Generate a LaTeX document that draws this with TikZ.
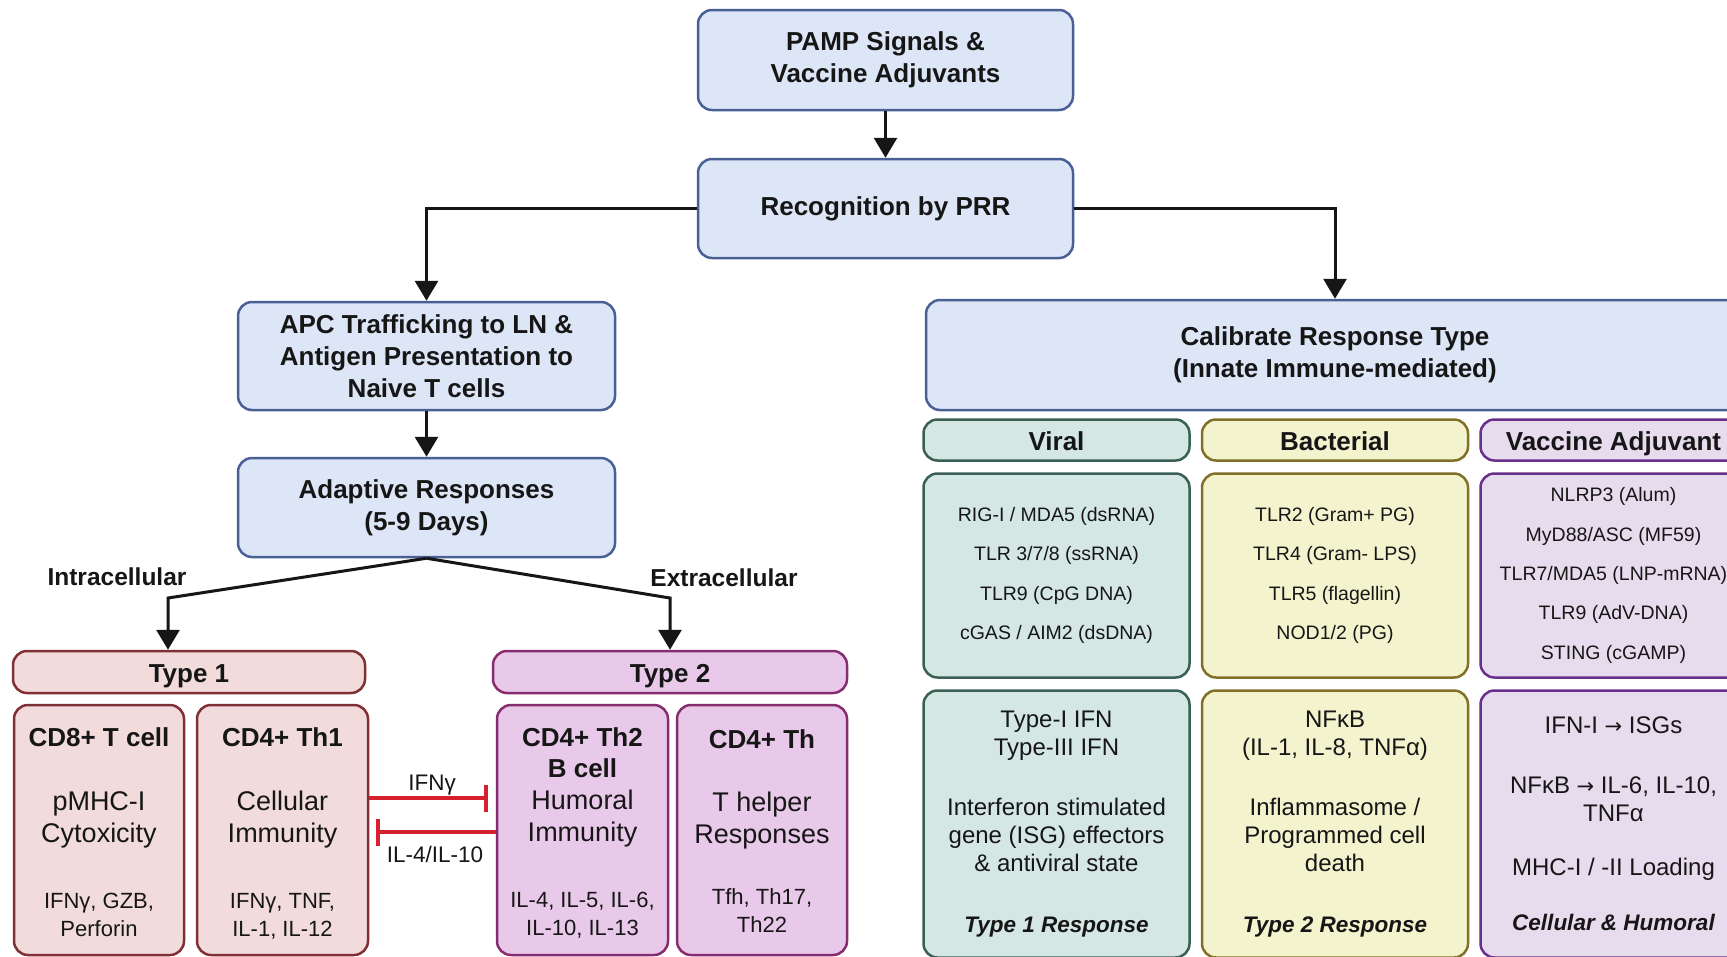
\documentclass[tikz,border=0pt]{standalone}
\usepackage{fontspec}
\setmainfont{Liberation Sans}
\newfontfamily\arrowfont{DejaVu Sans}
\usetikzlibrary{matrix,arrows.meta,positioning}

\definecolor{bluefill}{RGB}{221,230,246}
\definecolor{bluedraw}{RGB}{72,96,148}
\definecolor{onefill}{RGB}{241,219,219}
\definecolor{onedraw}{RGB}{128,48,52}
\definecolor{twofill}{RGB}{233,201,233}
\definecolor{twodraw}{RGB}{133,45,110}
\definecolor{viralfill}{RGB}{212,231,228}
\definecolor{viraldraw}{RGB}{58,96,84}
\definecolor{bactfill}{RGB}{243,243,206}
\definecolor{bactdraw}{RGB}{128,112,40}
\definecolor{vaccfill}{RGB}{231,219,238}
\definecolor{vaccdraw}{RGB}{104,48,138}
\definecolor{inhibred}{RGB}{214,32,48}
\definecolor{ink}{RGB}{22,22,22}

\tikzset{
  box/.style={draw=bluedraw, fill=bluefill, rounded corners=14pt, line width=2.5pt,
    align=center, inner sep=0pt, font=\bfseries\fontsize{26pt}{32pt}\selectfont},
  tone/.style={draw=onedraw, fill=onefill, rounded corners=14pt, line width=2.5pt, inner sep=0pt},
  ttwo/.style={draw=twodraw, fill=twofill, rounded corners=14pt, line width=2.5pt, inner sep=0pt},
  viral/.style={draw=viraldraw, fill=viralfill},
  bact/.style={draw=bactdraw, fill=bactfill},
  vacc/.style={draw=vaccdraw, fill=vaccfill},
  head/.style={minimum height=41pt, text height=22pt, text depth=1pt,
    font=\bfseries\fontsize{26pt}{31pt}\selectfont},
  list/.style={minimum height=204pt, font=\fontsize{19.5pt}{39.3pt}\selectfont},
  resp/.style={minimum height=267pt, font=\fontsize{24pt}{28pt}\selectfont},
  title/.style={align=center, inner sep=0pt, font=\bfseries\fontsize{26pt}{31pt}\selectfont},
  body/.style={align=center, inner sep=0pt, font=\fontsize{27pt}{32pt}\selectfont},
  cyto/.style={align=center, inner sep=0pt, font=\fontsize{22pt}{28pt}\selectfont},
  side/.style={inner sep=0pt, font=\bfseries\fontsize{24.5pt}{29pt}\selectfont},
  tag/.style={inner sep=0pt, font=\fontsize{22.5pt}{27pt}\selectfont},
  link/.style={draw=ink, line width=3pt, ->},
  inhib/.style={draw=inhibred, line width=4pt, -{Bar[width=27pt]}},
}

\newcommand{\resptag}[1]{{\fontsize{22.5pt}{28pt}\selectfont\bfseries\itshape #1}}
\newcommand{\toarrow}{{\arrowfont\fontsize{21pt}{28pt}\selectfont →}}

\def\Grid{
    \matrix (grid) at (1335,688.5)
    [ampersand replacement=\&,
    column sep={10pt},
    row sep={10.5pt},
    nodes={outer sep=0pt, anchor=center, minimum width=266pt, rounded corners=14pt,
      line width=2.5pt, align=center, inner sep=0pt, text=ink} ]
    {
     \node[head,viral] (viral-head) {Viral}; \& \node[head,bact] (bact-head) {Bacterial}; \& \node[head,vacc] (vacc-head) {Vaccine Adjuvant}; \\
     \node[list,viral] (viral-list) {RIG-I / MDA5 (dsRNA)\\TLR 3/7/8 (ssRNA)\\TLR9 (CpG DNA)\\cGAS / AIM2 (dsDNA)};
      \& \node[list,bact] (bact-list) {TLR2 (Gram+ PG)\\TLR4 (Gram- LPS)\\TLR5 (flagellin)\\NOD1/2 (PG)};
      \& \node[list,vacc] (vacc-list) {NLRP3 (Alum)\\MyD88/ASC (MF59)\\TLR7/MDA5 (LNP-mRNA)\\TLR9 (AdV-DNA)\\STING (cGAMP)}; \\
     \node[resp,viral] (viral-resp) {Type-I IFN\\Type-III IFN\\[32pt]Interferon stimulated\\gene (ISG) effectors\\\char38\relax{} antiviral state\\[33pt]\resptag{Type 1 Response}};
      \& \node[resp,bact] (bact-resp) {NFκB\\(IL-1, IL-8, TNFα)\\[32pt]Inflammasome /\\Programmed cell\\death\\[33pt]\resptag{Type 2 Response}};
      \& \node[resp,vacc] (vacc-resp) {IFN-I \toarrow{} ISGs\\[32pt]NFκB \toarrow{} IL-6, IL-10,\\TNFα\\[26pt]MHC-I / -II Loading\\[27pt]\resptag{Cellular \char38\relax{} Humoral}}; \\
};
}

\begin{document}
\begin{tikzpicture}[x=1pt, y=-1pt, >={Triangle[width=23pt,length=20pt]}, text=ink]
    \path[use as bounding box, fill=white] (0,0) rectangle (1727,956);

    \node[box, minimum width=375pt, minimum height=100pt] (pamp) at (885.5,60) {PAMP Signals \&\\Vaccine Adjuvants};
    \node[box, minimum width=375pt, minimum height=99pt] (recog) at (885.5,208.5) {Recognition by PRR};
    \node[box, minimum width=377pt, minimum height=108pt] (apc) at (426.5,356) {APC Trafficking to LN \&\\Antigen Presentation to\\Naive T cells};
    \node[box, minimum width=377pt, minimum height=99pt] (adapt) at (426.5,507.5) {Adaptive Responses\\(5-9 Days)};
    \node[box, minimum width=818pt, minimum height=110pt] (calib) at (1335,355) {Calibrate Response Type\\(Innate Immune-mediated)};

    \Grid

    \node[side, anchor=base] (intra-label) at (117,585) {Intracellular};
    \node[side, anchor=base] (extra-label) at (724,586) {Extracellular};

    \node[tone, title, minimum width=352pt, minimum height=42pt, text height=21pt, text depth=1pt] (typeone) at (189,672) {Type 1};
    \node[ttwo, title, minimum width=354pt, minimum height=42pt, text height=21pt, text depth=1pt] (typetwo) at (670,672) {Type 2};

    \node[tone, minimum width=170pt, minimum height=250pt] (cdeight) at (99,830) {};
    \node[tone, minimum width=171pt, minimum height=250pt] (thone) at (282.5,830) {};
    \node[ttwo, minimum width=171pt, minimum height=250pt] (thtwo) at (582.5,830) {};
    \node[ttwo, minimum width=170pt, minimum height=250pt] (thelp) at (762,830) {};

    \node[title, anchor=base] (cdeight-title) at (99,746) {CD8+ T cell};
    \node[body, anchor=base] (cdeight-body) at (99,842) {pMHC-I\\Cytoxicity};
    \node[cyto, anchor=base] (cdeight-cyto) at (99,936) {IFNγ, GZB,\\Perforin};

    \node[title, anchor=base] (thone-title) at (282.5,746) {CD4+ Th1};
    \node[body, anchor=base] (thone-body) at (282.5,842) {Cellular\\Immunity};
    \node[cyto, anchor=base] (thone-cyto) at (282.5,936) {IFNγ, TNF,\\IL-1, IL-12};

    \node[title, anchor=base] (thtwo-title) at (582.5,777) {CD4+ Th2\\B cell};
    \node[body, anchor=base] (thtwo-body) at (582.5,841) {Humoral\\Immunity};
    \node[cyto, anchor=base] (thtwo-cyto) at (582.5,935) {IL-4, IL-5, IL-6,\\IL-10, IL-13};

    \node[title, anchor=base] (thelp-title) at (762,748) {CD4+ Th};
    \node[body, anchor=base] (thelp-body) at (762,843) {T helper\\Responses};
    \node[cyto, anchor=base] (thelp-cyto) at (762,932) {Tfh, Th17,\\Th22};

    \coordinate (intra) at (168,598);
    \coordinate (extra) at (670,598);

    \draw[link] (pamp) -- (recog);
    \draw[link] (recog.west) -| (apc.north);
    \draw[link] (recog.east) -| (calib.north);
    \draw[link] (apc) -- (adapt);
    \draw[link] (adapt.south) -- (intra) -- (intra |- typeone.north);
    \draw[link] (adapt.south) -- (extra) -- (typetwo.north);

    \draw[inhib, shorten >=8pt] ([yshift=32pt]thone.east) -- ([yshift=32pt]thtwo.west);
    \draw[inhib, shorten >=7pt] ([yshift=-2pt]thtwo.west) -- ([yshift=-2pt]thone.east);

    \node[tag, anchor=base] (ifng) at (432,790) {IFNγ};
    \node[tag, anchor=base] (ilten) at (435,862) {IL-4/IL-10};

    % \draw[inhib] (thone.east) -- (thtwo.west);
  \end{tikzpicture}
\end{document}
